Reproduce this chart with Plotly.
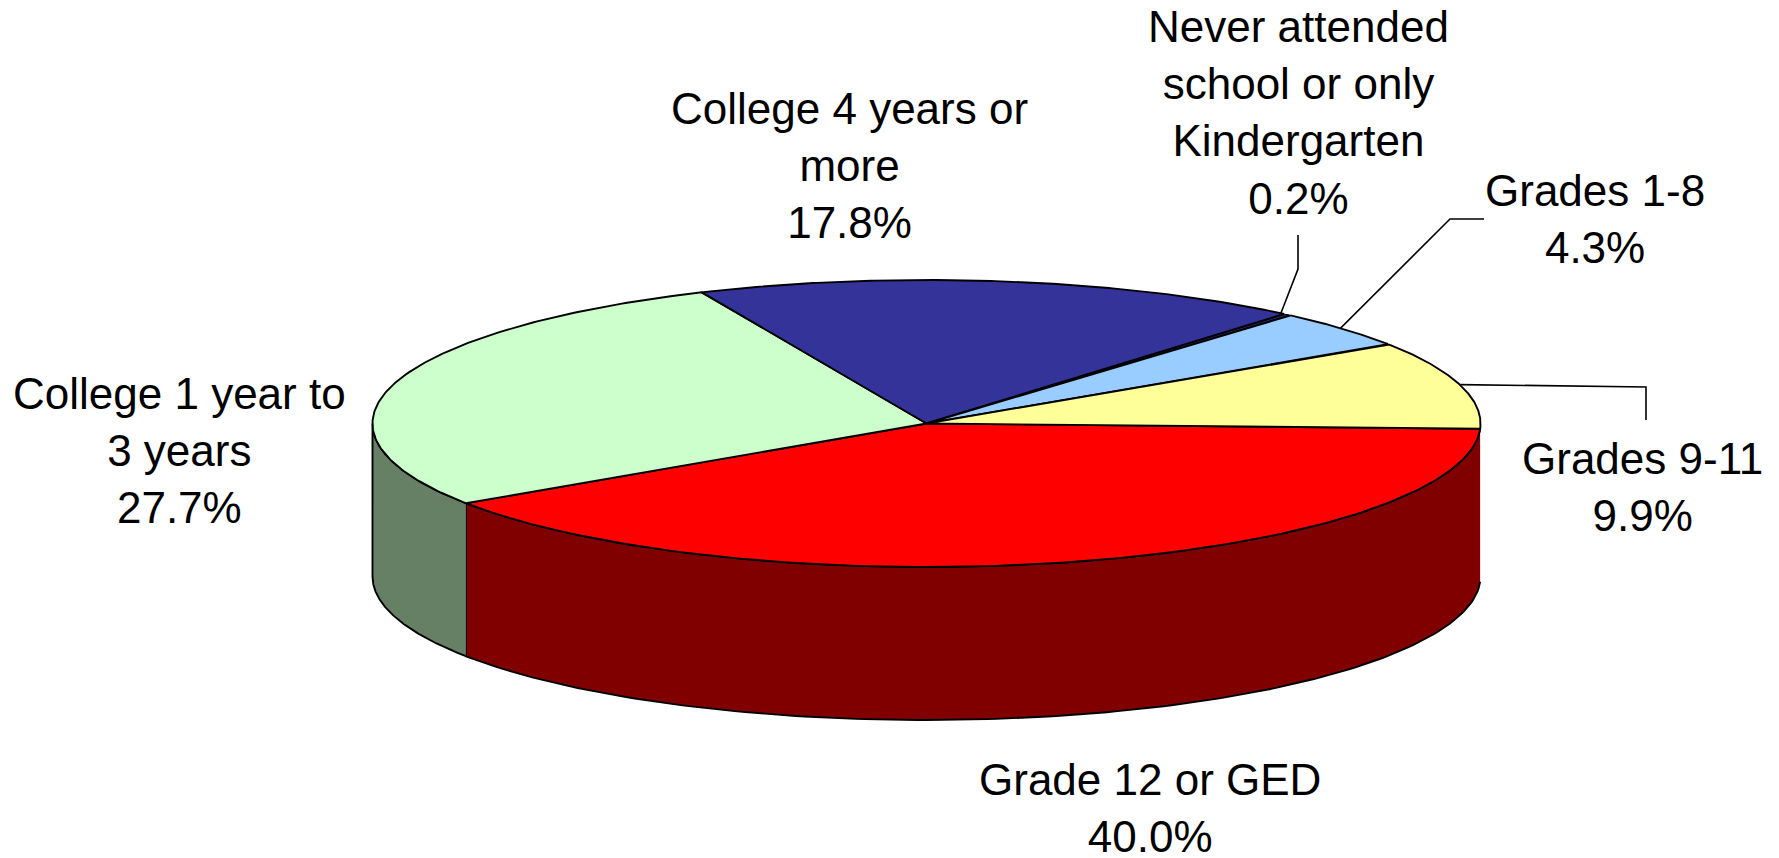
import numpy as np
import plotly.graph_objects as go

# Data
categories = ["Grade 12 or GED", "College 1 year to 3 years", "College 4 years or more",
              "Never attended school or only Kindergarten", "Grades 1-8", "Grades 9-11"]
values = [40.0, 27.7, 17.8, 0.2, 4.3, 9.9]
top_colors = ["#FF0000", "#CCFFCC", "#333399", "#333399", "#99CCFF", "#FFFF99"]
side_colors = ["#800000", "#668066", "#1A1A4D", "#1A1A4D", "#4D6680", "#80804D"]

label_text = ["Grade 12 or GED<br>40.0%", "College 1 year to<br>3 years<br>27.7%",
              "College 4 years or<br>more<br>17.8%",
              "Never attended<br>school or only<br>Kindergarten<br>0.2%",
              "Grades 1-8<br>4.3%", "Grades 9-11<br>9.9%"]
label_x = [1150, 179, 849, 1298, 1595, 1642]
label_y = [808, 450, 165, 112, 219, 487]

# Pie geometry, pixels
W, H = 1779, 858
CX, CY, RX, RY, DEPTH = 926.5, 423.5, 554, 143.5, 153
START = 92.1


def ex(t):
    return CX + RX * np.sin(np.radians(t))


def ey(t):
    return CY - RY * np.cos(np.radians(t))


edges = START + np.concatenate([[0], np.cumsum(values)]) * 360 / sum(values)
fig = go.Figure()
line = dict(color="black", width=1.9)
thin = dict(color="black", width=1.1)

# Rim (front half only)
for i, name in enumerate(categories):
    a, b = max(edges[i], 90), min(edges[i + 1], 270)
    if a >= b:
        continue
    t = np.linspace(a, b, 160)
    fig.add_trace(go.Scatter(
        x=np.r_[ex(t), ex(t[::-1])], y=np.r_[ey(t), ey(t[::-1]) + DEPTH],
        mode="lines", fill="toself", fillcolor=side_colors[i], line=line,
        name=name, showlegend=False, hoverinfo="skip"))

# Top face
for i, name in enumerate(categories):
    t = np.linspace(edges[i], edges[i + 1], 160)
    fig.add_trace(go.Scatter(
        x=np.r_[CX, ex(t), CX], y=np.r_[CY, ey(t), CY],
        mode="lines", fill="toself", fillcolor=top_colors[i],
        line=thin if values[i] < 1 else line,
        name=name, showlegend=False, hovertemplate=f"{name}: {values[i]}%<extra></extra>"))

# Leader lines: start on the rim near the slice's mid angle
elbows = {3: [(1298, 269), (1298, 235)], 4: [(1450, 219), (1484, 219)], 5: [(1646, 387), (1646, 420)]}
leader_shift = {3: -0.8, 4: -0.3, 5: 0}
for i, pts in elbows.items():
    mid = (edges[i] + edges[i + 1]) / 2 + leader_shift[i]
    fig.add_trace(go.Scatter(
        x=[ex(mid)] + [p[0] for p in pts], y=[ey(mid)] + [p[1] for p in pts],
        mode="lines", line=dict(color="black", width=1.6), showlegend=False, hoverinfo="skip"))

for txt, x, y in zip(label_text, label_x, label_y):
    fig.add_annotation(x=x, y=y, text=txt, showarrow=False, xanchor="center", yanchor="middle",
                       align="center", font=dict(family="Liberation Sans, Arial", size=44, color="black"))

axis = dict(visible=False, fixedrange=True)
fig.update_layout(
    width=W, height=H, autosize=False, margin=dict(l=0, r=0, t=0, b=0),
    paper_bgcolor="white", plot_bgcolor="white", showlegend=False,
    xaxis=dict(range=[0, W], **axis), yaxis=dict(range=[H, 0], **axis))

fig.write_html("out.html", post_script="document.body.style.margin='0';",
               config={"displayModeBar": False})
